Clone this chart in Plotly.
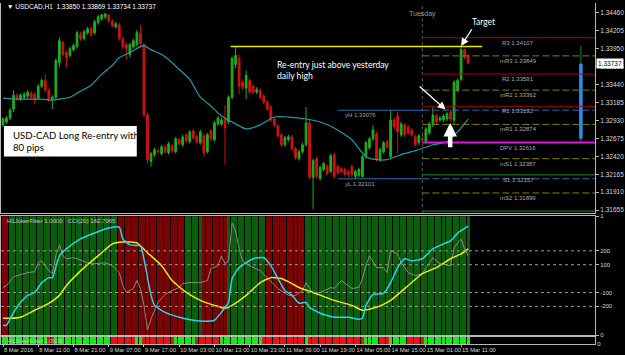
import plotly.graph_objects as go

# ---------------- data (USDCAD H1, 8 Mar 01:00 .. 15 Mar 13:00) ----------------
open_ = [1.32867,1.32909,1.32965,1.33092,1.33290,1.33233,1.33261,1.33276,1.33318,1.33304,
         1.33247,1.33417,1.33501,1.33360,1.33233,1.33261,1.33755,1.34037,1.33896,1.33854,
         1.33938,1.33981,1.34150,1.34093,1.34178,1.34235,1.34178,1.34319,1.34375,1.34404,
         1.34432,1.34347,1.34263,1.34291,1.34093,1.34009,1.33868,1.33981,1.34009,1.34164,
         1.34009,1.33008,1.32345,1.32444,1.32500,1.32458,1.32556,1.32472,1.32571,1.32486,
         1.32655,1.32585,1.32726,1.32627,1.32782,1.32697,1.32613,1.32712,1.32486,1.32782,
         1.32655,1.32881,1.32881,1.32951,1.32909,1.33261,1.33727,1.33811,1.33473,1.33388,
         1.33501,1.33417,1.33332,1.33360,1.33276,1.33191,1.33120,1.32951,1.32853,1.32726,
         1.32585,1.32655,1.32697,1.32528,1.32387,1.32486,1.32585,1.32895,1.32119,1.32387,
         1.32105,1.32232,1.32274,1.32204,1.32444,1.32274,1.32246,1.32232,1.32204,1.32274,
         1.32133,1.32148,1.32133,1.32415,1.32542,1.32669,1.32740,1.32373,1.32486,1.32627,
         1.32415,1.32937,1.32994,1.32726,1.32867,1.32838,1.32796,1.32697,1.32613,1.32669,
         1.32627,1.32754,1.32867,1.32994,1.32937,1.32937,1.32951,1.33050,1.32937,1.33360,
         1.33515,1.33938,1.33850]
high = [1.32979,1.32994,1.33106,1.33360,1.33318,1.33318,1.33332,1.33360,1.33346,1.33332,
        1.33445,1.33529,1.33586,1.33388,1.33290,1.33811,1.34108,1.34065,1.33924,1.33981,
        1.34023,1.34206,1.34192,1.34220,1.34263,1.34263,1.34361,1.34432,1.34446,1.34460,
        1.34446,1.34375,1.34333,1.34319,1.34122,1.34037,1.34037,1.34093,1.34220,1.34291,
        1.34037,1.33036,1.32486,1.32542,1.32528,1.32585,1.32585,1.32627,1.32599,1.32697,
        1.32683,1.32726,1.32754,1.32796,1.32810,1.32726,1.32796,1.32740,1.32754,1.32810,
        1.32923,1.32994,1.32965,1.33149,1.33290,1.33840,1.33981,1.33868,1.33501,1.33642,
        1.33529,1.33445,1.33403,1.33388,1.33304,1.33219,1.33149,1.32979,1.32881,1.32754,
        1.32712,1.32726,1.32726,1.32556,1.32514,1.32613,1.33120,1.32937,1.32387,1.32415,
        1.32289,1.32345,1.32303,1.32458,1.32472,1.32303,1.32274,1.32260,1.32232,1.32303,
        1.32232,1.32260,1.32444,1.32641,1.32697,1.32867,1.32768,1.32542,1.32641,1.32655,
        1.33076,1.32965,1.33050,1.32909,1.32895,1.32867,1.32824,1.32726,1.32740,1.32740,
        1.32838,1.32909,1.33120,1.33022,1.32994,1.33022,1.33050,1.33078,1.33501,1.33529,
        1.33995,1.33952,1.33869]
low = [1.32838,1.32881,1.32937,1.33050,1.33205,1.33205,1.33233,1.33247,1.33233,1.33163,
       1.33219,1.33388,1.33332,1.33191,1.33092,1.33233,1.33685,1.33840,1.33685,1.33826,
       1.33910,1.33952,1.34065,1.34065,1.34150,1.34122,1.34150,1.34291,1.34347,1.34375,
       1.34319,1.34249,1.34235,1.34065,1.33952,1.33797,1.33826,1.33952,1.33981,1.33981,
       1.32979,1.32317,1.32274,1.32415,1.32458,1.32430,1.32458,1.32444,1.32472,1.32458,
       1.32571,1.32556,1.32613,1.32599,1.32655,1.32599,1.32585,1.32415,1.32458,1.32641,
       1.32627,1.32853,1.32853,1.32303,1.32881,1.33233,1.33670,1.33304,1.33374,1.33233,
       1.33304,1.33304,1.33304,1.33233,1.33163,1.33064,1.32909,1.32838,1.32683,1.32556,
       1.32556,1.32627,1.32500,1.32373,1.32359,1.32458,1.32556,1.32091,1.31668,1.32105,
       1.32077,1.32204,1.32148,1.32176,1.32105,1.32162,1.32176,1.32133,1.32119,1.32119,
       1.32101,1.32119,1.32119,1.32387,1.32514,1.32641,1.32345,1.32345,1.32458,1.32528,
       1.32387,1.32810,1.32458,1.32697,1.32697,1.32726,1.32697,1.32556,1.32585,1.32616,
       1.32627,1.32726,1.32838,1.32881,1.32909,1.32909,1.32923,1.32923,1.32881,1.33332,
       1.33487,1.33797,1.33734]
close = [1.32951,1.32965,1.33078,1.33290,1.33233,1.33290,1.33304,1.33332,1.33261,1.33219,
         1.33417,1.33501,1.33360,1.33233,1.33261,1.33783,1.34065,1.33868,1.33826,1.33952,
         1.33995,1.34178,1.34093,1.34192,1.34235,1.34150,1.34333,1.34404,1.34432,1.34446,
         1.34347,1.34277,1.34305,1.34093,1.33981,1.33952,1.34009,1.34065,1.34178,1.34023,
         1.33008,1.32373,1.32458,1.32514,1.32486,1.32556,1.32486,1.32599,1.32500,1.32669,
         1.32599,1.32697,1.32641,1.32768,1.32683,1.32627,1.32768,1.32472,1.32726,1.32669,
         1.32895,1.32965,1.32937,1.32824,1.33261,1.33811,1.33854,1.33417,1.33403,1.33572,
         1.33332,1.33332,1.33374,1.33261,1.33191,1.33092,1.32937,1.32867,1.32712,1.32585,
         1.32683,1.32697,1.32528,1.32401,1.32486,1.32585,1.32895,1.32119,1.32359,1.32133,
         1.32260,1.32317,1.32176,1.32430,1.32133,1.32190,1.32204,1.32162,1.32162,1.32162,
         1.32204,1.32232,1.32415,1.32613,1.32669,1.32796,1.32373,1.32514,1.32613,1.32556,
         1.32937,1.32838,1.32768,1.32881,1.32726,1.32754,1.32726,1.32585,1.32712,1.32655,
         1.32810,1.32881,1.33008,1.32909,1.32965,1.32994,1.33022,1.32951,1.33473,1.33501,
         1.33938,1.33826,1.33737]

# moving average (teal) read at selected bars
ma_bar = [0,5,11,14,16,19,22,25,28,31,33,36,39,40,42,45,47,50,53,56,59,62,65,69,73,77,81,86,90,94,
          99,103,106,109,113,118,122,126,129,132]
ma_val = [1.33247,1.33233,1.33233,1.33219,1.33233,1.33261,1.33346,1.33431,1.33586,1.33713,
          1.33825,1.33896,1.33981,1.33995,1.33938,1.33868,1.33797,1.33656,1.33515,1.33261,
          1.33135,1.32994,1.32909,1.32810,1.32867,1.32979,1.32979,1.32951,1.32909,1.32824,
          1.32655,1.32415,1.32373,1.32373,1.32444,1.32514,1.32585,1.32627,1.32768,1.32951]

# time axis labels
time_tick_bar = [0,10,20,30,40,50,60,70,80,90,100,110,120,130]
time_tick_text = ["8 Mar 2016","8 Mar 11:00","8 Mar 21:00","9 Mar 07:00","9 Mar 17:00",
                  "10 Mar 03:00","10 Mar 13:00","10 Mar 23:00","11 Mar 09:00","11 Mar 19:00",
                  "14 Mar 05:00","14 Mar 15:00","15 Mar 01:00","15 Mar 11:00"]
price_ticks = [1.34460,1.34205,1.33950,1.33695,1.33440,1.33185,1.32930,1.32675,1.32420,1.32165,1.31910,1.31655]

# daily pivots for Tuesday
pivot_names = ["R3","mR3","R2","mR2","R1","mR1","DPV","mS1","S1","mS2","S2"]
pivot_values = [1.34107,1.33849,1.33591,1.33362,1.33132,1.32874,1.32616,1.32387,1.32157,1.31899,1.31641]
yest_high, yest_low = 1.33076, 1.32101
manual_level = 1.33981          # yellow "yesterday daily high" line
day_open, day_high, day_low, day_close = 1.32669, 1.33995, 1.32616, 1.33737

# indicator panel: CCI(20) (grey), cyan and yellow lines
cyan_bar = [0,1,3,5,7,9,11,13,14,16,18,22,26,30,33,34,36,39,40,42,43,46,50,54,57,60,62,64,65,67,
            71,74,76,78,80,82,84,86,87,90,94,98,101,102,103,105,108,110,112,114,116,119,122,125,127,129,132]
cyan_val = [-336,-336,-243,-171,-121,-100,-29,7,7,164,214,286,328,364,371,286,243,236,143,-121,
            -193,-243,-278,-300,-307,-300,-243,-171,0,79,143,150,93,0,-86,-121,-178,-171,-207,-250,
            -278,-278,-293,-286,-193,-114,-107,-29,79,143,128,143,214,250,271,328,378]
yel_bar = [0,2,5,9,13,16,18,23,28,31,34,38,41,45,48,52,56,60,63,65,69,73,76,79,82,84,88,94,99,102,
           106,110,115,119,123,127,130,132]
yel_val = [-286,-286,-278,-228,-178,-121,-50,79,186,250,264,257,186,93,-14,-100,-157,-193,-214,-193,
           -121,-29,7,0,-36,-64,-100,-157,-193,-228,-207,-157,-50,36,79,143,178,214]
cci_bar = [0,1,3,5,7,9,10,11,13,14,15,16,17,18,20,21,24,26,29,31,33,34,35,37,38,39,40,41,42,44,
           46,48,50,51,53,56,58,59,61,62,63,64,65,66,67,68,70,73,75,78,81,83,85,86,88,90,93,94,96,98,
           99,101,102,103,104,106,108,109,110,112,113,115,117,119,122,124,127,128,130,131,132]
cci_val = [-64,-50,14,29,43,50,114,128,57,36,164,243,164,143,150,143,114,107,114,93,
           43,-50,-100,-71,-14,-71,-193,-371,-290,-171,-114,-86,-64,-36,-29,-29,-14,71,93,164,
           107,128,400,343,214,128,93,57,7,-71,-121,-121,-86,-29,-107,-100,-64,-71,-14,-50,
           -71,-64,0,93,164,79,79,43,200,178,114,43,21,36,150,107,93,221,286,214,163]
cci_last = 162.7065
cci_levels = [200,100,-100,-200]

# H1JokerFilter state runs (G = up, R = down)
joker_panel_runs = [("R",2),("G",31),("R",19),("G",5),("R",7),("G",11),("R",11),("G",47)]
joker_strip_runs = [("G",13),("R",2),("G",16),("R",7),("G",2),("R",9),("G",6),("R",7),("G",12),
                    ("R",12),("G",1),("R",16),("G",4),("R",3),("G",5),("R",5),("G",13)]

# ---------------- styling / layout constants ----------------
N = len(close)
bars = list(range(N))
X_RANGE = [-0.57, 168.0]
PRICE_RANGE = [1.31612, 1.34601]
CCI_RANGE = [-407, 450]
SEP_BAR = 119           # Tuesday 00:00
YEST_START = 95         # Monday 00:00
DAY_BAR_X = 164
BULL, BEAR = "#1fae1f", "#d01212"
AX = "#b8b8b8"
TXT = "#d8d8d8"
SMALL = "Liberation Sans, DejaVu Sans, sans-serif"

def expand(runs):
    out = []
    for s, n in runs:
        out += [s] * n
    return out

panel_state = expand(joker_panel_runs)
strip_state = expand(joker_strip_runs)

fig = go.Figure()

fig.add_trace(go.Candlestick(
    x=bars, open=open_, high=high, low=low, close=close,
    increasing=dict(line=dict(color=BULL, width=1), fillcolor=BULL),
    decreasing=dict(line=dict(color=BEAR, width=1), fillcolor=BEAR),
    xaxis="x", yaxis="y", hoverinfo="skip", showlegend=False))
fig.add_trace(go.Scatter(x=ma_bar, y=ma_val, mode="lines",
                         line=dict(color="#1c9ea6", width=1.2, shape="spline", smoothing=0.6),
                         xaxis="x", yaxis="y", hoverinfo="skip", showlegend=False))
# day range bar on the right (wick + body)
fig.add_trace(go.Scatter(x=[DAY_BAR_X, DAY_BAR_X], y=[day_low, day_high], mode="lines",
                         line=dict(color="#1f8a1f", width=1), xaxis="x", yaxis="y",
                         hoverinfo="skip", showlegend=False))
fig.add_trace(go.Scatter(x=[DAY_BAR_X, DAY_BAR_X], y=[day_open, day_close], mode="lines",
                         line=dict(color="#2a8ff0", width=3.5), xaxis="x", yaxis="y",
                         hoverinfo="skip", showlegend=False))

# indicator histogram
fig.add_trace(go.Bar(x=bars, y=[1] * N, width=0.85,
                     marker=dict(color=["#0b5e0b" if s == "G" else "#7a0404" for s in panel_state],
                                 line=dict(width=0)),
                     xaxis="x2", yaxis="y2", hoverinfo="skip", showlegend=False))
fig.add_trace(go.Scatter(x=cci_bar, y=cci_val, mode="lines", line=dict(color="#8a8a8a", width=1),
                         xaxis="x2", yaxis="y3", hoverinfo="skip", showlegend=False))
fig.add_trace(go.Scatter(x=yel_bar, y=yel_val, mode="lines",
                         line=dict(color="#ecec10", width=1.5, shape="spline", smoothing=0.5),
                         xaxis="x2", yaxis="y3", hoverinfo="skip", showlegend=False))
fig.add_trace(go.Scatter(x=cyan_bar, y=cyan_val, mode="lines",
                         line=dict(color="#22d8ec", width=1.5, shape="spline", smoothing=0.5),
                         xaxis="x2", yaxis="y3", hoverinfo="skip", showlegend=False))
# strip histogram
fig.add_trace(go.Bar(x=bars, y=[1] * N, width=0.85,
                     marker=dict(color=["#10f010" if s == "G" else "#f01010" for s in strip_state],
                                 line=dict(width=0)),
                     xaxis="x3", yaxis="y4", hoverinfo="skip", showlegend=False))

shapes = []
annotations = []

# Tuesday separator
shapes.append(dict(type="line", xref="x", yref="y domain", x0=SEP_BAR, x1=SEP_BAR, y0=0, y1=1,
                   line=dict(color="#4f6a4f", width=1, dash="dot")))
annotations.append(dict(xref="x", yref="y domain", x=SEP_BAR, y=0.978, text="Tuesday",
                        showarrow=False, font=dict(family=SMALL, size=7, color="#9a9a9a")))

# pivot lines
def pivot_style(name):
    if name == "DPV":
        return dict(color="#e010e0", width=2)
    if name.startswith("m"):
        return dict(color="#808000", width=1, dash="7px,3px")
    if name.startswith("R"):
        return dict(color="#b00000", width=1)
    return dict(color="#228a22", width=1)

for name, val in zip(pivot_names, pivot_values):
    shapes.append(dict(type="line", xref="x", yref="y", x0=SEP_BAR, x1=X_RANGE[1], y0=val, y1=val,
                       line=pivot_style(name)))
    if name != "S2":
        annotations.append(dict(xref="x", yref="y", x=146.2, y=val, yanchor="top", xanchor="center",
                                text=f"{name} {val:.5f}", showarrow=False,
                                font=dict(family=SMALL, size=6, color="#a8a8a8")))

# yesterday high / low
for name, val in (("yH", yest_high), ("yL", yest_low)):
    shapes.append(dict(type="line", xref="x", yref="y", x0=YEST_START, x1=SEP_BAR, y0=val, y1=val,
                       line=dict(color="#2a6db0", width=1)))
    shapes.append(dict(type="line", xref="x", yref="y", x0=SEP_BAR, x1=X_RANGE[1], y0=val, y1=val,
                       line=dict(color="#2a6db0", width=1, dash="7px,3px")))
    annotations.append(dict(xref="x", yref="y", x=96.6, y=val, yanchor="top", xanchor="left",
                            text=f"{name} {val:.5f}", showarrow=False,
                            font=dict(family=SMALL, size=6, color="#a0a0a0")))

# manual yellow line
shapes.append(dict(type="line", xref="x", yref="y", x0=64.6, x1=136.0, y0=manual_level, y1=manual_level,
                   line=dict(color="#e8e800", width=1.5)))

# note box
shapes.append(dict(type="rect", xref="x domain", yref="y domain", x0=0.005, x1=0.2286, y0=0.269, y1=0.415,
                   fillcolor="white", line=dict(width=0), layer="above"))
annotations.append(dict(xref="x domain", yref="y domain", x=0.0168, y=0.341, xanchor="left", yanchor="middle",
                        align="left", showarrow=False,
                        text="USD-CAD Long Re-entry with<br>80 pips",
                        font=dict(family="Lato, sans-serif", size=9.6, color="black")))
annotations.append(dict(xref="x", yref="y", x=77.3, y=1.33635, xanchor="left", yanchor="middle",
                        align="left", showarrow=False,
                        text="Re-entry just above yesterday<br>daily high",
                        font=dict(family="Lato, sans-serif", size=8.6, color="white")))
annotations.append(dict(xref="x", yref="y", x=136.3, y=1.34333, showarrow=False, text="Target",
                        font=dict(family="Lato, sans-serif", size=8.5, color="white")))
# arrows
annotations.append(dict(xref="x", yref="y", axref="x", ayref="y", x=130.0, y=1.33988, ax=133.3, ay=1.34249,
                        text="", showarrow=True, arrowhead=2, arrowsize=1.2, arrowwidth=1.3, arrowcolor="white"))
annotations.append(dict(xref="x", yref="y", axref="x", ayref="y", x=125.6, y=1.33085, ax=117.8, ay=1.33431,
                        text="", showarrow=True, arrowhead=2, arrowsize=1.2, arrowwidth=1.3, arrowcolor="white"))
annotations.append(dict(xref="x", yref="y", axref="x", ayref="y", x=126.9, y=1.32895, ax=126.9, ay=1.32528,
                        text="", showarrow=True, arrowhead=2, arrowsize=0.6, arrowwidth=4.5, arrowcolor="white"))

# header texts
annotations.append(dict(xref="x domain", yref="y domain", x=0.0067, y=0.981, xanchor="left", yanchor="middle",
                        showarrow=False,
                        text=f"▼ USDCAD,H1  {open_[-1]:.5f} {high[-1]:.5f} {low[-1]:.5f} {close[-1]:.5f}",
                        font=dict(family=SMALL, size=6.5, color="white")))
annotations.append(dict(xref="x2 domain", yref="y2 domain", x=0.0067, y=0.955, xanchor="left", yanchor="middle",
                        showarrow=False, text=f"H1JokerFilter 1.0000   CCI(20) {cci_last:.4f}",
                        font=dict(family=SMALL, size=6, color="#c8c8c8")))
annotations.append(dict(xref="x3 domain", yref="y4 domain", x=0.0067, y=0.5, xanchor="left", yanchor="middle",
                        showarrow=False, text="H1JokerFilter 1.0000",
                        font=dict(family=SMALL, size=6, color="#c8c8c8")))
# current price box
annotations.append(dict(xref="paper", yref="y", x=1.0, xshift=1, y=close[-1], xanchor="left", yanchor="middle",
                        showarrow=False, text=f"{close[-1]:.5f}", bgcolor="white", borderpad=1,
                        font=dict(family=SMALL, size=6.5, color="black")))

# CCI level lines (dotted)
for lv in cci_levels:
    shapes.append(dict(type="line", xref="x2 domain", yref="y3", x0=0, x1=1, y0=lv, y1=lv,
                       line=dict(color="#9a9a9a", width=1, dash="dot"), layer="above"))

axis_common = dict(showgrid=False, zeroline=False, linecolor=AX, linewidth=1)
fig.update_layout(
    width=625, height=355,
    margin=dict(l=0, r=30, t=0, b=10),
    paper_bgcolor="black", plot_bgcolor="black",
    showlegend=False, bargap=0,
    xaxis=dict(domain=[0, 1], range=X_RANGE, anchor="y", showticklabels=False, ticks="",
               showline=True, rangeslider=dict(visible=False), **axis_common),
    xaxis2=dict(domain=[0, 1], range=X_RANGE, anchor="y2", showticklabels=False, ticks="",
                showline=True, mirror=True, **axis_common),
    xaxis3=dict(domain=[0, 1], range=X_RANGE, anchor="y4", tickvals=time_tick_bar, ticktext=time_tick_text,
                ticklabelposition="outside right", tickangle=0, ticks="outside", ticklen=2, tickcolor=AX,
                tickfont=dict(family=SMALL, size=5.8, color=TXT),
                showline=True, mirror=True, **axis_common),
    yaxis=dict(domain=[0.38551, 1.0], range=PRICE_RANGE, anchor="x", side="right",
               tickvals=price_ticks, ticktext=[f"{v:.5f}" for v in price_ticks],
               ticks="outside", ticklen=3, tickcolor=AX,
               tickfont=dict(family=SMALL, size=6.5, color=TXT),
               showline=True, mirror=True, **axis_common),
    yaxis2=dict(domain=[0.02899, 0.37681], range=[0, 1], anchor="x2", side="right",
                tickvals=[0, 1], ticktext=["0", "1"], ticks="outside", ticklen=3, tickcolor=AX,
                tickfont=dict(family=SMALL, size=6, color=TXT),
                showline=True, mirror=True, **axis_common),
    yaxis3=dict(range=CCI_RANGE, anchor="x2", overlaying="y2", side="right",
                tickvals=cci_levels, ticktext=[str(v) for v in cci_levels], ticks="outside", ticklen=3,
                tickcolor=AX, tickfont=dict(family=SMALL, size=6, color=TXT),
                showline=False, showgrid=False, zeroline=False),
    yaxis4=dict(domain=[0.0029, 0.02319], range=[0, 1], anchor="x3", side="right",
                tickvals=[0], ticktext=["0"], ticks="", tickfont=dict(family=SMALL, size=6, color=TXT),
                showline=True, mirror=True, **axis_common),
    shapes=shapes, annotations=annotations,
)

fig.write_html("out.html")
